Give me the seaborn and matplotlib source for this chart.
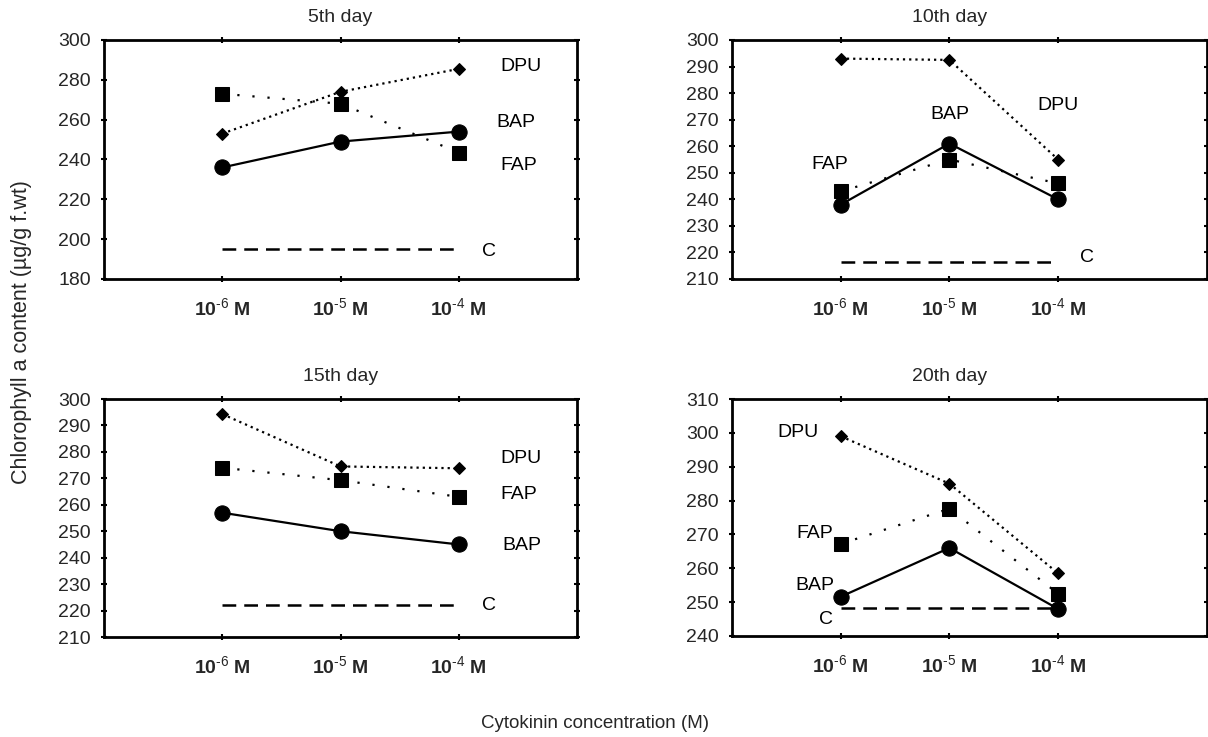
import numpy as np
import pandas as pd
import matplotlib
matplotlib.use("Agg")
import matplotlib.pyplot as plt
import seaborn as sns

# ---------------- data ----------------
concentrations = ["-6", "-5", "-4"]
panel_titles = ["5th day", "10th day", "15th day", "20th day"]

bap_values = [[236, 249, 254], [238, 261, 240], [257, 250, 245], [251.6, 266, 248]]
fap_values = [[273, 268, 243.5], [243, 255, 246], [274, 269.3, 263], [267.2, 277.6, 252.5]]
dpu_values = [[253, 274, 285.5], [293, 292.5, 255], [294.3, 274.5, 273.8], [299, 285, 258.5]]
control_values = [195.3, 216.3, 222, 248.4]

y_limits = [(180, 300), (210, 300), (210, 300), (240, 310)]
y_steps = [20, 10, 10, 10]

series_names = ["BAP", "FAP", "DPU"]

# label positions (x in category units, y in data units) per panel
label_pos = [
    {"DPU": (2.35, 286.5, "left"), "BAP": (2.32, 258.5, "left"), "FAP": (2.35, 237, "left"), "C": (2.2, 194, "left")},
    {"FAP": (-0.1, 253, "center"), "BAP": (1.0, 272, "center"), "DPU": (2.0, 275.5, "center"), "C": (2.2, 218, "left")},
    {"DPU": (2.35, 277.4, "left"), "FAP": (2.35, 264, "left"), "BAP": (2.37, 244.7, "left"), "C": (2.2, 222, "left")},
    {"DPU": (-0.2, 300, "right"), "FAP": (-0.07, 270.2, "right"), "BAP": (-0.06, 255, "right"), "C": (-0.07, 245, "right")},
]

# ---------------- style ----------------
sns.set_theme(style="white")
plt.rcParams["font.family"] = ["Liberation Sans", "DejaVu Sans"]
plt.rcParams["mathtext.fontset"] = "custom"
plt.rcParams["mathtext.rm"] = "Liberation Sans"
plt.rcParams["mathtext.bf"] = "Liberation Sans:bold"
plt.rcParams["axes.unicode_minus"] = False

fig = plt.figure(figsize=(12.08, 7.37), dpi=100)

W, H = 1208, 737
positions = [
    (104, 40, 577, 279),
    (732, 40, 1207, 279),
    (104, 399, 577, 637),
    (732, 399, 1207, 636),
]
xlims = [(-1, 3), (-1, 3.37), (-1, 3), (-1, 3.37)]

styles = {
    "BAP": dict(marker="o", markersize=11, linestyle="-"),
    "FAP": dict(marker="s", markersize=10, linestyle=(0, (1, 5.8))),
    "DPU": dict(marker="D", markersize=6, linestyle=(0, (1, 1.8))),
}

xpos = np.arange(len(concentrations))
FS = 14

for i in range(4):
    l, t, r, b = positions[i]
    ax = fig.add_axes([l / W, 1 - b / H, (r - l) / W, (b - t) / H])
    vals = {"BAP": bap_values[i], "FAP": fap_values[i], "DPU": dpu_values[i]}

    # control dashed line
    sns.lineplot(x=xpos, y=[control_values[i]] * len(xpos), ax=ax, color="black",
                 linewidth=1.8, linestyle=(0, (5.5, 3.2)), estimator=None)
    for name in ["FAP", "DPU", "BAP"]:
        sns.lineplot(x=xpos, y=vals[name], ax=ax, color="black", linewidth=1.6,
                     markeredgecolor="black", markerfacecolor="black",
                     estimator=None, **styles[name])

    ax.set_xlim(*xlims[i])
    lo, hi = y_limits[i]
    ax.set_ylim(lo, hi)
    ax.set_yticks(np.arange(lo, hi + 1, y_steps[i]))
    ax.set_xticks(xpos)
    ax.set_xticklabels([r"10$^{\mathbf{\text{" + c + r"}}}$ M" for c in concentrations],
                       fontsize=FS, fontweight="bold")
    for lab in ax.get_yticklabels():
        lab.set_fontsize(FS)
    ax.tick_params(axis="both", direction="inout", length=5, width=1.5,
                   top=True, right=True, bottom=True, left=True, color="black")
    ax.tick_params(axis="x", pad=11)
    ax.tick_params(axis="y", pad=7)
    ax.set_xlabel("")
    ax.set_ylabel("")
    for s in ax.spines.values():
        s.set_visible(True)
        s.set_linewidth(2)
        s.set_color("black")

    # title centred over middle category
    xc = (1 - xlims[i][0]) / (xlims[i][1] - xlims[i][0])
    ax.set_title(panel_titles[i], fontsize=FS, x=xc, pad=13)

    for name, (lx, ly, ha) in label_pos[i].items():
        ax.text(lx, ly, name, fontsize=FS, ha=ha, va="center", color="black")

fig.text(22 / W, 1 - 332 / H, "Chlorophyll a content (µg/g f.wt)",
         rotation=90, ha="center", va="center", fontsize=15.5)
fig.text(595 / W, 1 - 723 / H, "Cytokinin concentration (M)",
         ha="center", va="center", fontsize=13.5)

fig.savefig("out.png", dpi=100)
